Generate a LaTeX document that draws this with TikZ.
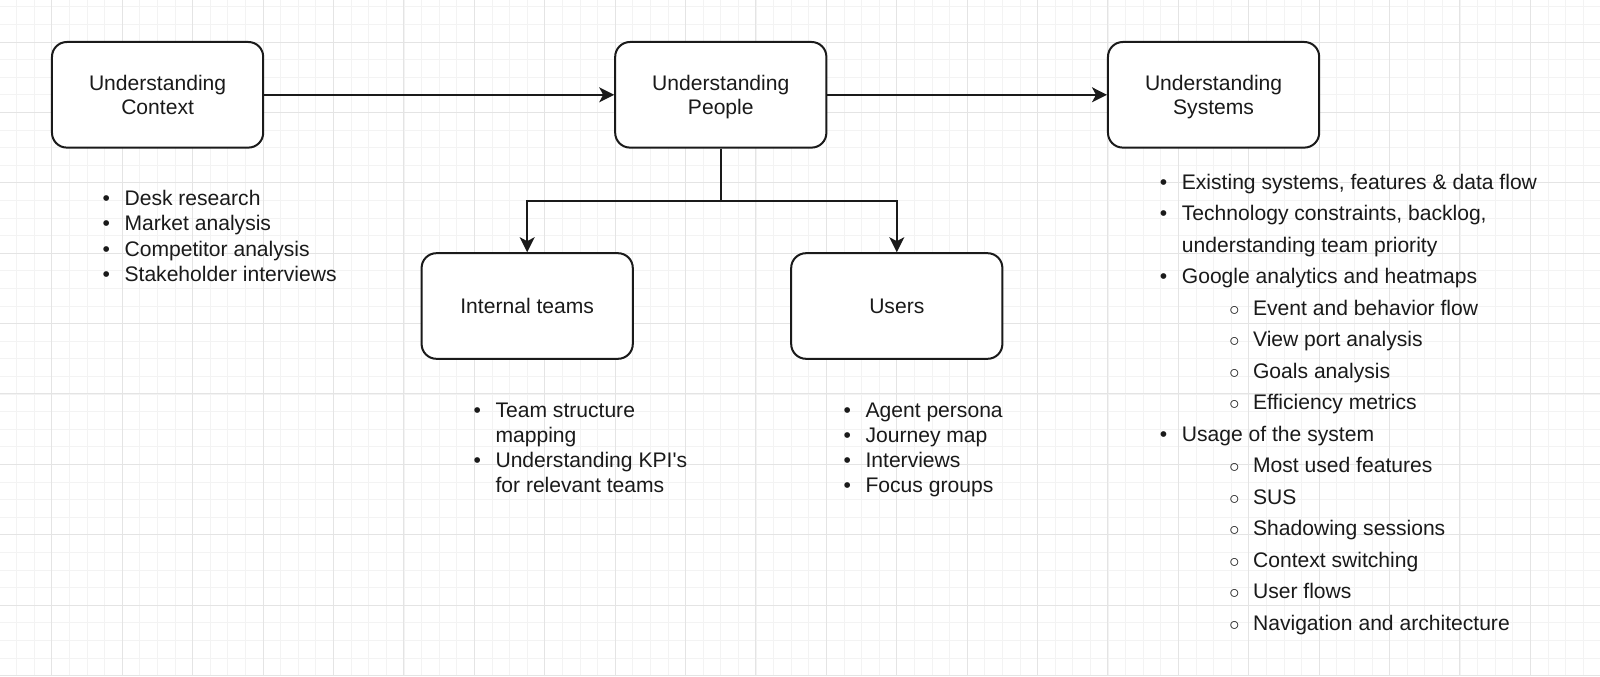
\documentclass[tikz,border=0pt]{standalone}
\usepackage{fontspec}
\setmainfont{Liberation Sans}
\usetikzlibrary{arrows.meta}
\definecolor{GridMinor}{HTML}{F3F3F3}
\definecolor{GridMajor}{HTML}{E4E4E4}
\definecolor{Ink}{HTML}{1A1A1A}
\tikzset{
  stagebox/.style={
    rounded corners=0.37cm,
    draw=Ink,
    line width=0.05cm,
    fill=white,
    text=Ink,
    align=center,
    inner sep=0pt,
    text depth=0pt,
    minimum width=5.28cm,
    minimum height=2.64cm,
    font=\fontsize{15}{17.5}\selectfont
  },
  notelist/.style={
    anchor=base west,
    inner sep=0pt,
    text=Ink,
    font=\fontsize{15}{18}\selectfont
  },
  flowarrow/.style={
    -{Stealth[length=0.375cm,width=0.375cm,inset=0.1cm]},
    line width=0.05cm,
    draw=Ink
  },
  minorgrid/.style={draw=GridMinor, line width=0.025cm},
  majorgrid/.style={draw=GridMajor, line width=0.025cm}
}
\newcommand{\bul}{\makebox[0.55cm][l]{\textbullet}}
\newcommand{\cont}{\hspace*{0.55cm}}
\newcommand{\subbul}{\hspace*{1.185cm}\makebox[0.595cm][l]{$\circ$}}

\begin{document}
\begin{tikzpicture}[x=1.76cm,y=1.76cm]

% Canvas and grid.
\useasboundingbox (-0.7386,-9.006) rectangle (21.989,0.5966);
\fill[white] (-0.7386,-9.006) rectangle (21.989,0.5966);
\draw[minorgrid] (-0.7386,-9.006) grid[step=0.44cm] (21.989,0.5966);
\draw[majorgrid] (-0.7386,-9.006) grid[step=1.76cm] (21.989,0.5966);

% Stages.
\node[stagebox] (context) at (1.5,-0.75) {Understanding\\Context};
\node[stagebox] (people) at (9.5,-0.75) {Understanding\\People};
\node[stagebox] (systems) at (16.5,-0.75) {Understanding\\Systems};
\node[stagebox] (internal) at (6.75,-3.75) {Internal teams};
\node[stagebox] (users) at (12,-3.75) {Users};

% Arrows.
\draw[flowarrow] (context.east) -- (people.west);
\draw[flowarrow] (people.east) -- (systems.west);
\draw[flowarrow] (people.south) -- ++(0,-0.75) -| (internal.north);
\draw[flowarrow] (people.south) -- ++(0,-0.75) -| (users.north);

% Notes under each stage.
\node[notelist] (contextnotes) at (0.7145,-2.325) {%
  \begin{tabular}[t]{@{}l@{}}
  \bul Desk research\\
  \bul Market analysis\\
  \bul Competitor analysis\\
  \bul Stakeholder interviews
  \end{tabular}};

\node[notelist] (internalnotes) at (5.984,-5.327) {%
  \begin{tabular}[t]{@{}l@{}}
  \bul Team structure\\
  \cont mapping\\
  \bul Understanding KPI\textquotesingle s\\
  \cont for relevant teams
  \end{tabular}};

\node[notelist] (usersnotes) at (11.24,-5.327) {%
  \begin{tabular}[t]{@{}l@{}}
  \bul Agent persona\\
  \bul Journey map\\
  \bul Interviews\\
  \bul Focus groups
  \end{tabular}};

\node[notelist, font=\fontsize{15}{22.4}\selectfont] (systemsnotes) at (15.733,-2.092) {%
  \begin{tabular}[t]{@{}l@{}}
  \bul Existing systems, features \& data flow\\
  \bul Technology constraints, backlog,\\
  \cont understanding team priority\\
  \bul Google analytics and heatmaps\\
  \cont\subbul Event and behavior flow\\
  \cont\subbul View port analysis\\
  \cont\subbul Goals analysis\\
  \cont\subbul Efficiency metrics\\
  \bul Usage of the system\\
  \cont\subbul Most used features\\
  \cont\subbul SUS\\
  \cont\subbul Shadowing sessions\\
  \cont\subbul Context switching\\
  \cont\subbul User flows\\
  \cont\subbul Navigation and architecture
  \end{tabular}};

\end{tikzpicture}
\end{document}
